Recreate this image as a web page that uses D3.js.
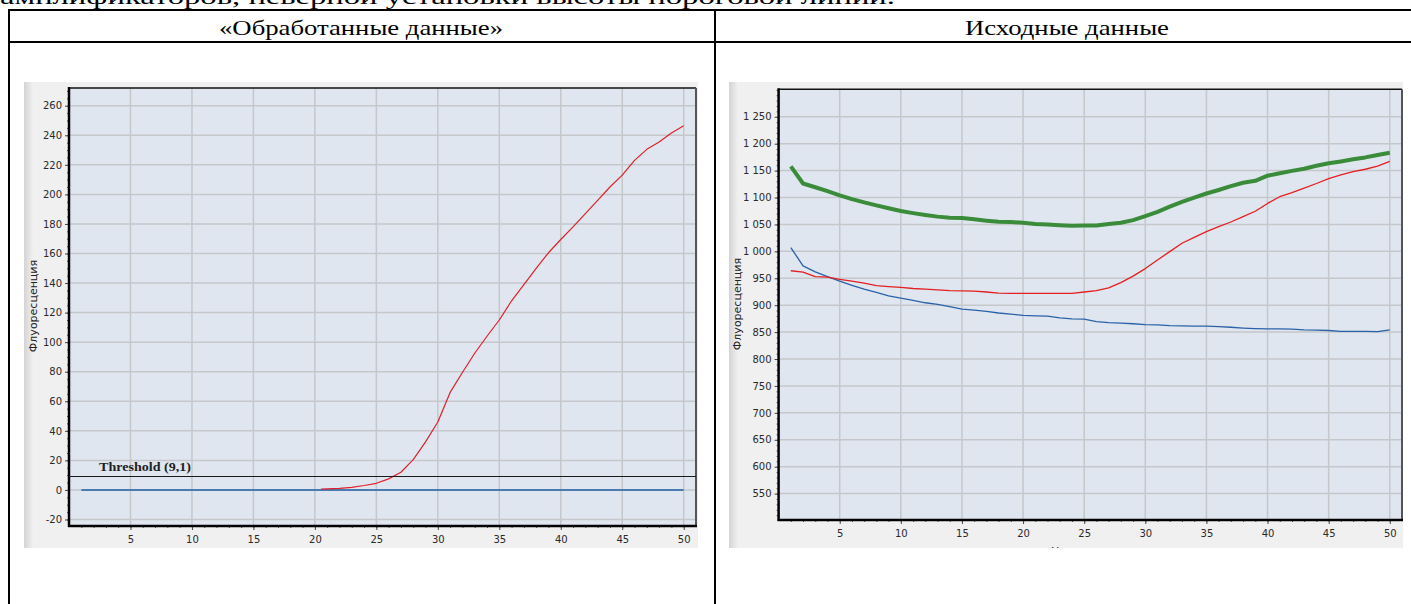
<!DOCTYPE html>
<html>
<head>
<meta charset="utf-8">
<script src="https://cdn.jsdelivr.net/npm/d3@7"></script>
<style>
  body { margin: 0; background: #fff; }
  svg { display: block; }
</style>
</head>
<body>
<script>
// data
const cycles = [1,2,3,4,5,6,7,8,9,10,11,12,13,14,15,16,17,18,19,20,21,22,23,24,25,
  26,27,28,29,30,31,32,33,34,35,36,37,38,39,40,41,42,43,44,45,46,47,48,49,50];

// "Обработанные данные"
const procRedCycles = [20.5,21,22,23,24,25,26,27,28,29,30,31,32,33,34,35,36,37,38,39,40,
  41,42,43,44,45,46,47,48,49,50];
const procRed = [0.6,0.7,1.0,1.8,3.0,4.5,7.5,12,20.5,32.5,46,66,79.5,92.5,104,115,128,139,150,160.5,169.5,
  178,187,196,205,213,223,230.5,235.5,241.5,246.5];
const procBlue = [0,0,0,0,0,0,0,0,0,0,0,0,0,0,0,0,0,0,0,0,0,0,0,0,0,
  0,0,0,0,0,0,0,0,0,0,0,0,0,0,0,0,0,0,0,0,0,0,0,0,0];
const threshold = 9.1;
const procYTicks = [-20,0,20,40,60,80,100,120,140,160,180,200,220,240,260];

// "Исходные данные"
const rawGreen = [1158,1126,1119,1112,1104,1097,1091,1085.5,1080,1075,1071,1067.5,1064.5,1062.5,1062,
  1059.5,1057,1055,1054.5,1053,1051,1050,1048.5,1047.5,1048,1048,1051,1053,1058,1065.5,
  1073.5,1083,1092,1100,1107.5,1114,1121,1127.5,1131,1140.5,1145,1149.5,1153.5,1159,1163.5,
  1167,1171,1174.5,1179,1183];
const rawRed = [964,961.5,953,952,948,944.5,941,936.5,934.5,933,931,930,928.5,927,926.5,
  926,924.5,922.5,922,922,922,922,922,922,924.5,927,932,942,954,968,
  984,999.5,1015,1026,1036.5,1046,1054.5,1064.5,1074.5,1089,1101.5,1109,1117.5,1126,1135,
  1142,1148,1152.5,1158.5,1167];
const rawBlue = [1007,973,962,953,944.5,937,930,924,917.5,913,909,904.5,901.5,897.5,892.5,
  891,888.5,885.5,883.5,881,880,879.5,876.5,874.5,874,869.5,867.5,866.5,865.5,864,
  863.5,862,861.5,861,861,860,859,857.5,856.5,856,856,855.5,854,853.5,853,
  851.5,851.5,851.5,851,854];
const rawYTicks = [550,600,650,700,750,800,850,900,950,1000,1050,1100,1150,1200,1250];

const xTicks = [5,10,15,20,25,30,35,40,45,50];

const W = 1411, H = 604;
const svg = d3.select('body').append('svg').attr('width', W).attr('height', H);
const defs = svg.append('defs');

// page text and table lines
svg.append('text')
  .attr('x', 0).attr('y', 4)
  .attr('textLength', 895).attr('lengthAdjust', 'spacingAndGlyphs')
  .style('font', '22px "Liberation Serif", "Times New Roman", serif')
  .text('амплификаторов, неверной установки высоты пороговой линии.');

let tbl = svg.append('g').attr('stroke', '#000').attr('stroke-width', 2);
tbl.append('line').attr('x1', 8).attr('x2', W).attr('y1', 10).attr('y2', 10);
tbl.append('line').attr('x1', 8).attr('x2', W).attr('y1', 42).attr('y2', 42);
tbl.append('line').attr('x1', 9).attr('x2', 9).attr('y1', 9).attr('y2', H);
tbl.append('line').attr('x1', 715).attr('x2', 715).attr('y1', 9).attr('y2', H);

svg.append('text')
  .attr('x', 219).attr('y', 35)
  .attr('textLength', 284).attr('lengthAdjust', 'spacingAndGlyphs')
  .style('font', '22px "Liberation Serif", "Times New Roman", serif')
  .text('«Обработанные данные»');
svg.append('text')
  .attr('x', 965).attr('y', 35)
  .attr('textLength', 204).attr('lengthAdjust', 'spacingAndGlyphs')
  .style('font', '22px "Liberation Serif", "Times New Roman", serif')
  .text('Исходные данные');

// left edge shading of the screenshots
let grad = defs.append('linearGradient').attr('id', 'edge');
grad.append('stop').attr('offset', '0%').attr('stop-color', '#d4d4d4');
grad.append('stop').attr('offset', '100%').attr('stop-color', '#f0f0f0');

const ruLocale = d3.formatLocale({decimal: ',', thousands: '\u00a0', grouping: [3], currency: ['', ''], minus: '-'});
const spaceFmt = ruLocale.format(',');
const intFmt = ruLocale.format('d');

function drawChart(o) {
  defs.append('clipPath').attr('id', o.id)
    .append('rect').attr('x', o.box[0]).attr('y', o.box[1])
    .attr('width', o.box[2] - o.box[0]).attr('height', o.box[3] - o.box[1]);

  let g = svg.append('g').attr('clip-path', 'url(#' + o.id + ')');

  g.append('rect').attr('x', o.box[0]).attr('y', o.box[1])
    .attr('width', o.box[2] - o.box[0]).attr('height', o.box[3] - o.box[1])
    .attr('fill', '#f0f0f0');
  g.append('rect').attr('x', o.box[0]).attr('y', o.box[1])
    .attr('width', 9).attr('height', o.box[3] - o.box[1])
    .attr('fill', 'url(#edge)');

  let x = d3.scaleLinear().domain([0, 51]).range([o.plot.l, o.plot.r]);
  let y = d3.scaleLinear().domain(o.yDomain).range([o.plot.b, o.plot.t]);

  g.append('rect').attr('x', o.plot.l).attr('y', o.plot.t)
    .attr('width', o.plot.r - o.plot.l).attr('height', o.plot.b - o.plot.t)
    .attr('fill', '#dfe6f0');

  // grid
  g.append('g').selectAll('line').data(xTicks).join('line')
    .attr('x1', d => x(d)).attr('x2', d => x(d))
    .attr('y1', o.plot.t).attr('y2', o.plot.b)
    .attr('stroke', '#c5c7ca').attr('stroke-width', 1.5);
  g.append('g').selectAll('line').data(o.yTicks).join('line')
    .attr('x1', o.plot.l).attr('x2', o.plot.r)
    .attr('y1', d => y(d)).attr('y2', d => y(d))
    .attr('stroke', '#c5c7ca').attr('stroke-width', 1.5);

  // axes
  let yAxis = d3.axisLeft(y).tickValues(o.yTicks).tickSize(4).tickPadding(3).tickFormat(o.fmt);
  let xAxis = d3.axisBottom(x).tickValues(xTicks).tickSize(4).tickPadding(6);
  let ya = g.append('g').attr('transform', 'translate(' + o.plot.l + ',0)').call(yAxis);
  let xa = g.append('g').attr('transform', 'translate(0,' + o.plot.b + ')').call(xAxis);
  [ya, xa].forEach(a => {
    a.select('.domain').remove();
    a.selectAll('line').attr('stroke', '#444');
    a.selectAll('text')
      .style('font', '10px "DejaVu Sans", Verdana, sans-serif')
      .attr('fill', '#2a2a2a');
  });

  // minor ticks
  let ym = d3.axisLeft(y).ticks(o.minorY).tickSize(2).tickFormat('');
  let xm = d3.axisBottom(x).tickValues(cycles).tickSize(2).tickFormat('');
  g.append('g').attr('transform', 'translate(' + o.plot.l + ',0)').call(ym)
    .call(a => a.select('.domain').remove())
    .selectAll('line').attr('stroke', '#555');
  g.append('g').attr('transform', 'translate(0,' + o.plot.b + ')').call(xm)
    .call(a => a.select('.domain').remove())
    .selectAll('line').attr('stroke', '#555');

  // plot frame
  g.append('line').attr('x1', o.plot.l).attr('x2', o.plot.r).attr('y1', o.plot.t).attr('y2', o.plot.t)
    .attr('stroke', '#111').attr('stroke-width', 1.5);
  g.append('line').attr('x1', o.plot.r).attr('x2', o.plot.r).attr('y1', o.plot.t).attr('y2', o.plot.b)
    .attr('stroke', '#555').attr('stroke-width', 2);
  g.append('line').attr('x1', o.plot.l).attr('x2', o.plot.l).attr('y1', o.plot.t - 1).attr('y2', o.plot.b + 1)
    .attr('stroke', '#000').attr('stroke-width', 2.5);
  g.append('line').attr('x1', o.plot.l - 1).attr('x2', o.plot.r + 1).attr('y1', o.plot.b).attr('y2', o.plot.b)
    .attr('stroke', '#000').attr('stroke-width', 2.5);

  g.append('text')
    .attr('transform', 'translate(' + o.yTitle[0] + ',' + o.yTitle[1] + ') rotate(-90)')
    .attr('text-anchor', 'middle')
    .style('font', '11px "DejaVu Sans", Verdana, sans-serif')
    .attr('fill', '#222')
    .text('Флуоресценция');

  if (o.xTitle) {
    g.append('text').attr('x', o.xTitle[0]).attr('y', o.xTitle[1])
      .style('font', '11px "DejaVu Sans", Verdana, sans-serif')
      .attr('fill', '#222')
      .text('Циклы');
  }

  let pg = g.append('g');
  o.series.forEach(s => {
    let line = d3.line().x((d, i) => x(s.xs[i])).y(d => y(d));
    pg.append('path').datum(s.ys)
      .attr('d', line)
      .attr('fill', 'none')
      .attr('stroke', s.color)
      .attr('stroke-width', s.w)
      .attr('stroke-linejoin', 'round');
  });

  return {g: g, x: x, y: y};
}

let left = drawChart({
  id: 'clipL',
  box: [24, 82, 698, 548],
  plot: {l: 69, t: 88, r: 696, b: 526},
  yDomain: [-24.4, 272],
  yTicks: procYTicks,
  minorY: 70,
  yTitle: [37, 306],
  fmt: intFmt,
  series: [
    {xs: cycles, ys: procBlue, color: '#1f5fa8', w: 1.5},
    {xs: procRedCycles, ys: procRed, color: '#e0202a', w: 1.2}
  ]
});

// threshold line and label
left.g.append('line')
  .attr('x1', left.x(0)).attr('x2', left.x(51))
  .attr('y1', left.y(threshold)).attr('y2', left.y(threshold))
  .attr('stroke', '#1a1a1a').attr('stroke-width', 1.2);
left.g.append('text')
  .attr('x', 99).attr('y', left.y(threshold) - 5)
  .attr('textLength', 92).attr('lengthAdjust', 'spacingAndGlyphs')
  .style('font', 'bold 13px "Liberation Serif", "Times New Roman", serif')
  .attr('fill', '#222')
  .text('Threshold (' + String(threshold).replace('.', ',') + ')');

drawChart({
  id: 'clipR',
  box: [729, 82, 1403, 548],
  plot: {l: 778.6, t: 89.3, r: 1402, b: 520},
  yDomain: [501, 1301],
  yTicks: rawYTicks,
  minorY: 80,
  yTitle: [741, 304],
  xTitle: [1051, 555],
  fmt: spaceFmt,
  series: [
    {xs: cycles, ys: rawBlue, color: '#2a62a8', w: 1.3},
    {xs: cycles, ys: rawRed, color: '#e32020', w: 1.3},
    {xs: cycles, ys: rawGreen, color: '#3a8c3a', w: 4}
  ]
});
</script>
</body>
</html>
